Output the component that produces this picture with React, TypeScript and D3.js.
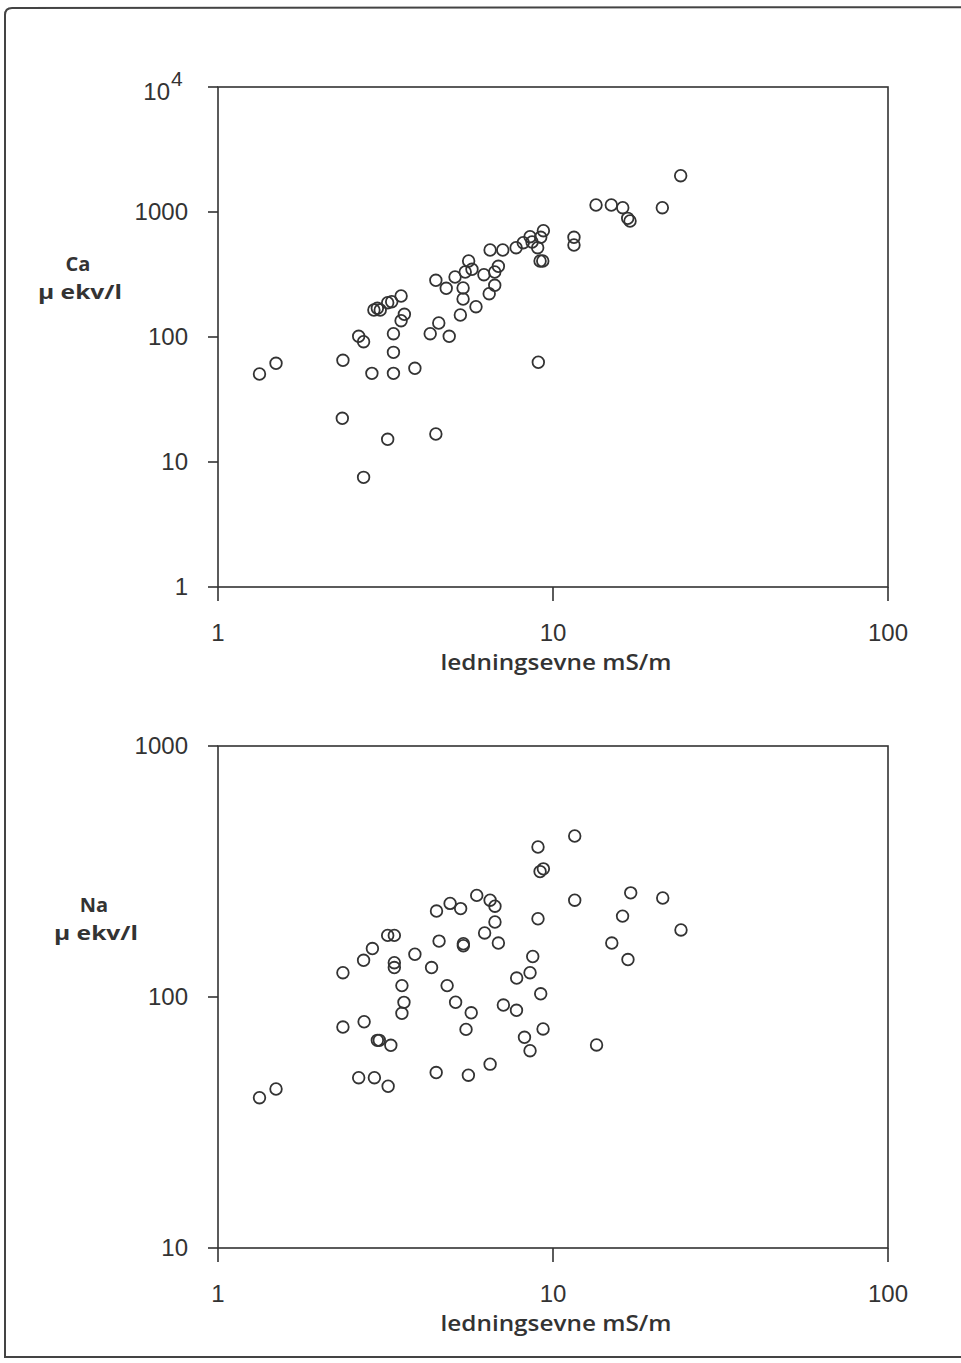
import React from "react";
import * as d3 from "d3";

// Top panel: Ca vs conductivity
const caCond = [1.33,1.49,2.36,2.88,3.34,3.34,3.87,9.04,2.63,2.72,3.34,4.30,4.56,4.90,3.52,3.60,5.29,5.89,2.92,2.99,3.05,3.21,3.30,3.52,4.47,4.80,5.10,5.39,5.39,5.47,5.60,5.73,6.22,6.45,6.70,6.70,6.87,6.49,7.08,7.76,8.15,8.54,8.66,9.00,9.19,9.36,9.15,9.32,24.05,13.44,14.93,16.15,16.71,16.98,21.2,11.55,11.55,2.35,3.21,4.47,2.72];
const caVal = [50.6,61.6,65.1,51.2,51.2,75.4,56.2,62.8,101.3,91.7,106.3,106.3,129.4,101.3,135,151.9,150,174.8,164.4,169.6,164.4,188.1,191.6,212.8,284.2,245.3,302,246.6,201.4,331.1,405.5,348,315.1,222,259.2,331.1,367.8,496.6,496.6,518.1,568.1,634.4,575.4,518.1,627.4,708.8,405.5,405.5,1951,1138,1138,1082,890,847,1082,627.4,544.5,22.37,15.19,16.75,7.54];

// Bottom panel: Na vs conductivity
const naCond = [9.02,9.15,9.36,5.92,4.93,6.49,6.71,5.30,4.49,9.02,6.71,6.25,4.57,5.40,5.40,6.87,3.21,3.36,2.89,2.72,2.36,3.36,3.36,3.87,4.34,8.70,8.54,7.79,3.54,4.83,9.19,11.61,11.61,17.06,21.26,16.13,24.10,14.98,16.74,5.12,5.70,5.50,7.11,7.78,9.34,8.22,8.54,13.49,4.48,5.59,6.49,3.59,3.54,2.36,2.73,2.99,3.03,3.28,2.63,2.93,3.22,1.49,1.33];
const naVal = [396,316,324,254,236,243,230,225,220,205,199,180,167,163,160,164,176,176,156,140,125,137,131,148,131,145,125,119,111,111,103,438,243,260,248,210,185,164,141,95.3,86.5,74.3,92.9,88.5,74.6,69.1,61.1,64.4,50,48.8,54,95.2,86.1,75.9,79.7,67.2,67.2,64.2,47.7,47.7,44.1,43,39.7];

const xTicks = [1, 10, 100];
const yTopTicks = [1, 10, 100, 1000];
const yBotTicks = [10, 100, 1000];
const xTitle = "ledningsevne mS/m";

const INK = "#333";
const tickFont = "'Liberation Sans', Arial, sans-serif";
const boldFont = "'Open Sans', 'DejaVu Sans', sans-serif";

function Panel({ yDomain, yRange, yTicks, xs, ys, label, labelX, labelY, supTop }: any) {
  const x = d3.scaleLog().domain([1, 100]).range([218, 888]);
  const y = d3.scaleLog().domain(yDomain).range(yRange);
  const [y0, y1] = yRange;
  return (
    <g>
      <rect x={218} y={y1} width={670} height={y0 - y1} fill="none" stroke={INK} strokeWidth={1.6} />
      {yTicks.map((t: number) => (
        <g key={"yt" + t}>
          <line x1={208} x2={218} y1={y(t)} y2={y(t)} stroke={INK} strokeWidth={1.6} />
          <text x={188} y={y(t) + 8} textAnchor="end" fontFamily={tickFont} fontSize={24} fill={INK}>{t}</text>
        </g>
      ))}
      {supTop && (
        <g>
          <line x1={208} x2={218} y1={y1} y2={y1} stroke={INK} strokeWidth={1.6} />
          <text x={170} y={y1 + 13} textAnchor="end" fontFamily={tickFont} fontSize={24} fill={INK}>10</text>
          <text x={171} y={y1 - 1} textAnchor="start" fontFamily={tickFont} fontSize={21} fill={INK}>4</text>
        </g>
      )}
      {xTicks.map((t) => (
        <g key={"xt" + t}>
          <line x1={x(t)} x2={x(t)} y1={y0} y2={y0 + 14} stroke={INK} strokeWidth={1.6} />
          <text x={x(t)} y={y0 + 54} textAnchor="middle" fontFamily={tickFont} fontSize={24} fill={INK}>{t}</text>
        </g>
      ))}
      <text x={556} y={y0 + 83} textAnchor="middle" fontFamily={boldFont} fontWeight={600} fontSize={21} fill={INK} textLength={231} lengthAdjust="spacingAndGlyphs">{xTitle}</text>
      <text x={labelX - 2} y={labelY} textAnchor="middle" fontFamily={boldFont} fontWeight={700} fontSize={20} fill={INK}>{label}</text>
      <text x={labelX} y={labelY + 28} textAnchor="middle" fontFamily={boldFont} fontWeight={700} fontSize={20} fill={INK} textLength={84} lengthAdjust="spacingAndGlyphs">µ ekv/l</text>
      {xs.map((v: number, i: number) => (
        <circle key={i} cx={x(v)} cy={y(ys[i])} r={5.8} fill="none" stroke={INK} strokeWidth={1.8} />
      ))}
    </g>
  );
}

export default function App() {
  return (
    <svg width={961} height={1363} style={{ position: "absolute", left: 0, top: 0, background: "#fff", overflow: "hidden" }}>
      <rect x={0} y={0} width={961} height={1363} fill="#fff" />
      <path d="M 1200 7 L 12 8 Q 5 8 5 15 L 5 1357 L 1200 1357" fill="none" stroke="#444" strokeWidth={2} />
      <Panel yDomain={[1, 10000]} yRange={[587, 87]} yTicks={yTopTicks} xs={caCond} ys={caVal} label="Ca" labelX={80} labelY={271} supTop />
      <Panel yDomain={[10, 1000]} yRange={[1248, 746]} yTicks={yBotTicks} xs={naCond} ys={naVal} label="Na" labelX={96} labelY={912} />
    </svg>
  );
}
